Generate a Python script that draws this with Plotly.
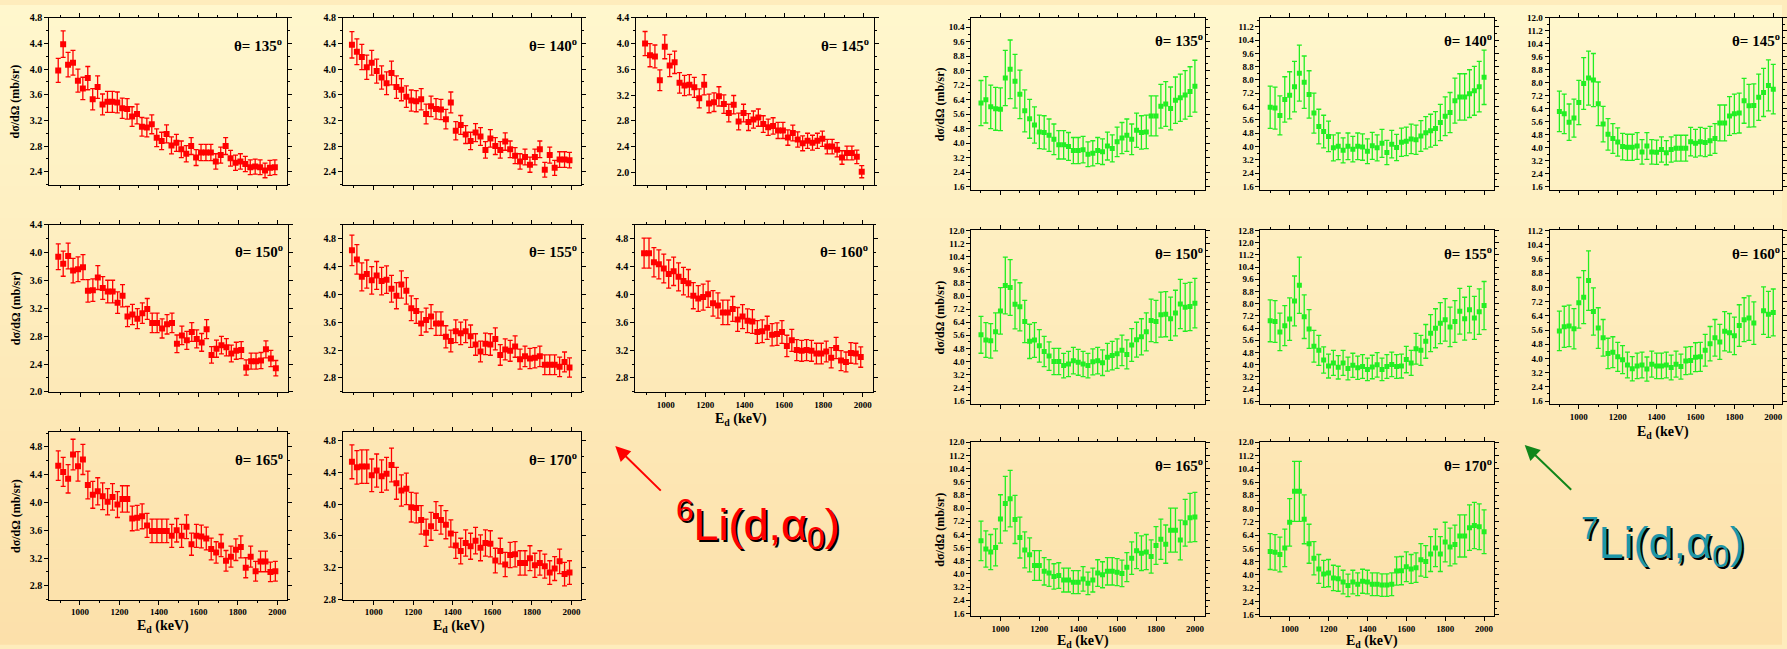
import plotly.graph_objects as go

W, H = 1787, 649

# ---------------- data ----------------
E_6Li = [890, 915, 940, 965, 990, 1015, 1040, 1065, 1090, 1115, 1140, 1165, 1190, 1215, 1240,
         1265, 1290, 1315, 1340, 1365, 1390, 1415, 1440, 1465, 1490, 1515, 1540, 1565, 1590, 1615,
         1640, 1665, 1690, 1715, 1740, 1765, 1790, 1815, 1840, 1865, 1890, 1915, 1940, 1965, 1990]
E_7Li = [900, 925, 950, 975, 1000, 1025, 1050, 1075, 1100, 1125, 1150, 1175, 1200, 1225, 1250,
         1275, 1300, 1325, 1350, 1375, 1400, 1425, 1450, 1475, 1500, 1525, 1550, 1575, 1600, 1625,
         1650, 1675, 1700, 1725, 1750, 1775, 1800, 1825, 1850, 1875, 1900, 1925, 1950, 1975, 2000]

li6_135 = [3.98, 4.39, 4.07, 4.10, 3.82, 3.70, 3.86, 3.53, 3.72, 3.45, 3.49, 3.49, 3.48, 3.39, 3.38,
           3.26, 3.30, 3.10, 3.09, 3.14, 2.93, 2.88, 2.99, 2.81, 2.85, 2.75, 2.68, 2.80, 2.62, 2.70,
           2.70, 2.70, 2.56, 2.66, 2.80, 2.61, 2.54, 2.56, 2.52, 2.47, 2.48, 2.47, 2.42, 2.46, 2.47]
li6_140 = [4.38, 4.27, 4.19, 4.03, 4.10, 3.97, 3.87, 3.78, 3.94, 3.72, 3.68, 3.57, 3.51, 3.50, 3.53,
           3.30, 3.42, 3.38, 3.37, 3.22, 3.48, 3.04, 3.13, 2.98, 2.88, 3.01, 2.95, 2.74, 2.92, 2.80,
           2.74, 2.87, 2.75, 2.65, 2.56, 2.63, 2.51, 2.63, 2.75, 2.43, 2.66, 2.46, 2.59, 2.59, 2.58]
li6_145 = [4.00, 3.82, 3.80, 3.43, 3.95, 3.66, 3.71, 3.39, 3.35, 3.36, 3.32, 3.15, 3.36, 3.07, 3.09,
           3.18, 3.06, 2.92, 3.05, 2.79, 2.92, 2.78, 2.82, 2.85, 2.75, 2.70, 2.72, 2.65, 2.65, 2.54,
           2.61, 2.51, 2.45, 2.49, 2.46, 2.49, 2.52, 2.40, 2.40, 2.35, 2.23, 2.30, 2.30, 2.24, 2.01]
li6_150 = [3.94, 3.84, 3.95, 3.74, 3.76, 3.79, 3.45, 3.46, 3.64, 3.49, 3.44, 3.44, 3.28, 3.38, 3.08,
           3.11, 3.05, 3.13, 3.19, 2.99, 2.99, 2.91, 2.97, 2.99, 2.69, 2.81, 2.74, 2.86, 2.76, 2.71,
           2.90, 2.53, 2.62, 2.67, 2.64, 2.55, 2.59, 2.60, 2.35, 2.44, 2.44, 2.45, 2.61, 2.48, 2.34]
li6_155 = [4.63, 4.50, 4.25, 4.29, 4.20, 4.27, 4.19, 4.21, 4.08, 3.98, 4.14, 4.05, 3.80, 3.76, 3.58,
           3.63, 3.68, 3.58, 3.58, 3.39, 3.33, 3.47, 3.44, 3.47, 3.40, 3.28, 3.18, 3.29, 3.28, 3.36,
           3.13, 3.21, 3.19, 3.25, 3.07, 3.11, 3.08, 3.09, 3.11, 2.99, 2.99, 2.99, 2.96, 3.03, 2.95]
li6_160 = [4.59, 4.59, 4.46, 4.43, 4.37, 4.29, 4.33, 4.25, 4.19, 4.16, 3.98, 3.94, 3.96, 4.00, 3.87,
           3.84, 3.74, 3.74, 3.79, 3.64, 3.68, 3.62, 3.61, 3.46, 3.47, 3.52, 3.42, 3.43, 3.46, 3.26,
           3.34, 3.20, 3.19, 3.20, 3.19, 3.15, 3.15, 3.18, 3.09, 3.23, 3.05, 3.03, 3.16, 3.15, 3.10]
li6_165 = [4.53, 4.44, 4.34, 4.69, 4.52, 4.62, 4.25, 4.11, 4.16, 4.09, 4.01, 4.08, 3.97, 4.05, 4.05,
           3.77, 3.78, 3.80, 3.67, 3.59, 3.59, 3.59, 3.59, 3.52, 3.60, 3.52, 3.65, 3.40, 3.52, 3.51,
           3.48, 3.33, 3.28, 3.38, 3.16, 3.22, 3.32, 3.36, 3.06, 3.22, 3.01, 3.15, 3.15, 3.00, 3.01]
li6_170 = [4.53, 4.46, 4.47, 4.47, 4.36, 4.42, 4.35, 4.38, 4.49, 4.26, 4.17, 4.19, 3.96, 3.95, 3.80,
           3.64, 3.72, 3.85, 3.80, 3.74, 3.63, 3.48, 3.41, 3.51, 3.47, 3.54, 3.45, 3.51, 3.50, 3.29,
           3.41, 3.24, 3.36, 3.37, 3.26, 3.26, 3.32, 3.23, 3.26, 3.22, 3.14, 3.19, 3.28, 3.12, 3.14]

li7_135 = [6.22, 6.40, 6.01, 5.90, 5.88, 7.60, 8.08, 7.42, 6.70, 5.79, 5.35, 5.01, 4.63, 4.60, 4.45,
           4.22, 3.92, 3.92, 3.83, 3.60, 3.60, 3.65, 3.40, 3.45, 3.60, 3.54, 3.85, 3.72, 4.08, 4.29,
           4.45, 4.22, 4.72, 4.60, 4.63, 5.51, 5.51, 6.04, 6.17, 5.92, 6.38, 6.51, 6.67, 6.85, 7.15]
li7_140 = [6.36, 6.31, 5.87, 6.83, 7.08, 7.60, 8.41, 7.87, 7.13, 6.01, 5.20, 4.90, 4.61, 3.92, 4.01,
           3.77, 4.01, 3.84, 4.01, 3.97, 3.72, 4.04, 3.92, 4.19, 3.64, 4.14, 3.94, 4.26, 4.31, 4.46,
           4.41, 4.63, 4.83, 4.95, 5.08, 5.45, 5.82, 6.04, 6.76, 6.98, 6.98, 7.18, 7.35, 7.60, 8.16]
li7_145 = [6.24, 6.09, 5.58, 5.83, 6.79, 7.96, 8.29, 8.17, 6.71, 5.46, 4.83, 4.58, 4.36, 4.08, 4.03,
           4.03, 4.11, 3.75, 4.11, 3.75, 3.73, 3.90, 3.70, 3.90, 3.98, 3.98, 3.98, 4.38, 4.28, 4.38,
           4.33, 4.43, 4.58, 5.53, 5.53, 5.96, 6.09, 6.14, 6.89, 6.59, 6.61, 7.11, 7.41, 7.84, 7.61]
li7_150 = [5.63, 5.31, 5.26, 5.81, 7.09, 8.64, 8.52, 7.49, 7.34, 6.44, 5.23, 5.31, 4.96, 4.61, 4.33,
           4.00, 4.00, 3.75, 3.85, 4.05, 3.95, 3.85, 3.75, 3.98, 4.05, 3.93, 4.26, 4.36, 4.48, 4.68,
           4.43, 5.01, 5.33, 5.51, 5.81, 6.51, 6.44, 6.86, 6.89, 6.61, 6.96, 7.51, 7.31, 7.36, 7.56]
li7_155 = [6.88, 6.83, 6.15, 6.56, 6.99, 8.18, 9.21, 7.15, 6.34, 5.21, 4.94, 4.31, 3.91, 4.12, 3.83,
           4.12, 3.75, 3.96, 3.80, 3.88, 3.69, 3.85, 3.99, 3.69, 3.88, 4.02, 3.88, 3.91, 4.34, 4.12,
           5.04, 4.94, 5.53, 6.07, 6.39, 6.72, 6.94, 6.48, 6.83, 7.50, 7.02, 7.61, 7.07, 7.48, 7.88]
li7_160 = [5.55, 5.78, 5.83, 5.67, 7.13, 7.45, 8.38, 6.64, 5.71, 5.16, 4.28, 4.35, 4.09, 3.93, 3.63,
           3.42, 3.58, 3.63, 3.40, 3.68, 3.58, 3.58, 3.63, 3.49, 3.68, 3.54, 3.86, 3.89, 4.07, 4.09,
           4.46, 4.83, 5.16, 4.93, 5.53, 5.44, 5.27, 5.85, 6.18, 6.27, 5.99, None, 6.69, 6.48, 6.59]
li7_165 = [6.01, 5.51, 5.33, 5.61, 7.34, 8.27, 8.57, 7.31, 6.21, 5.46, 5.16, 4.51, 4.51, 4.16, 4.06,
           3.85, 3.90, 3.63, 3.63, 3.50, 3.50, 3.70, 3.43, 3.63, 4.05, 3.95, 4.16, 4.16, 4.11, 4.03,
           4.41, 4.96, 5.41, 5.26, 5.33, 5.06, 5.73, 6.11, 5.81, 6.66, 6.66, 6.06, 7.11, 7.41, 7.46]
li7_170 = [5.41, 5.36, 5.23, 5.63, 7.17, 9.04, 9.04, 7.35, 5.88, 5.01, 4.36, 4.06, 4.11, 3.82, 3.77,
           3.57, 3.37, 3.57, 3.44, 3.62, 3.57, 3.44, 3.44, 3.39, 3.39, 3.44, 4.24, 4.26, 4.49, 4.36,
           4.44, 4.91, 4.81, 5.26, 5.63, 5.26, 5.98, 5.68, 5.83, 6.35, 6.35, 6.85, 6.98, 6.90, 6.60]

ERR_6LI_PCT = 4.7   # relative uncertainty (%)
ERR_7LI_PCT = 20.0

angles = [135, 140, 145, 150, 155, 160, 165, 170]
li6 = {135: li6_135, 140: li6_140, 145: li6_145, 150: li6_150,
       155: li6_155, 160: li6_160, 165: li6_165, 170: li6_170}
li7 = {135: li7_135, 140: li7_140, 145: li7_145, 150: li7_150,
       155: li7_155, 160: li7_160, 165: li7_165, 170: li7_170}

# ---------------- layout / style ----------------
RED = '#ff0000'
GREEN = '#22ee22'
SERIF = 'Liberation Serif'
SANS = 'Liberation Sans'

# pixel boxes: left, right, top, bottom
red_box = {135: (49.5, 287.5, 13, 183), 140: (344, 583, 13, 183), 145: (638, 876, 13, 183),
           150: (49.5, 288.5, 223, 393), 155: (344, 583, 223, 393), 160: (637, 875, 223, 393),
           165: (49.5, 288, 434, 604), 170: (344, 583, 434, 604)}
red_yr = {135: [2.19, 4.801], 140: [2.19, 4.801], 145: [1.8, 4.401], 150: [1.999, 4.401],
          155: [2.6, 5.0], 160: [2.6, 5.0], 165: [2.6, 5.01], 170: [2.799, 4.9]}
green_box = {135: (974, 1208, 13, 188), 140: (1264, 1498, 13, 188), 145: (1554, 1788, 13, 188),
             150: (974, 1208, 229, 405), 155: (1264, 1498, 229, 405), 160: (1554, 1788, 229, 405),
             165: (974, 1208, 444, 621), 170: (1264, 1498, 444, 621)}
green_yr = {135: [1.42, 10.92], 140: [1.38, 11.74], 145: [1.40, 12.001], 150: [1.42, 12.001],
            155: [1.44, 12.801], 160: [1.45, 11.201], 165: [1.42, 12.001], 170: [1.5, 12.001]}
RED_XR = [845, 2050]
GREEN_XR = [850, 2050]

fig = go.Figure()
layout_axes = {}
annotations = []
counter = [0]


def add_panel(E, vals, color, pct, box, yr, xr, show_xl, ydt, angle, msize, ytfs, xtfs,
              theta_x, theta_y):
    counter[0] += 1
    n = counter[0]
    s = '' if n == 1 else str(n)
    l, r, t, b = box
    xr = list(xr)
    if r > W:
        span = (xr[1] - xr[0]) / (r - l)
        xr[1] = xr[0] + span * (W - l)
        r = W
    fig.add_trace(go.Scatter(
        x=E, y=vals, mode='markers', xaxis='x' + s, yaxis='y' + s, showlegend=False,
        marker=dict(symbol='square', size=msize, color=color, line=dict(width=0)),
        error_y=dict(type='percent', value=pct, color=color, thickness=1.3, width=2.5)))
    common = dict(showline=True, linecolor='black', linewidth=1, mirror='ticks',
                  ticks='outside', ticklen=4, tickwidth=1, tickcolor='black',
                  showgrid=False, zeroline=False)
    layout_axes['xaxis' + s] = dict(
        domain=[l / W, min(r / W, 1.0)], anchor='y' + s, range=xr,
        tick0=1000, dtick=200, showticklabels=show_xl,
        tickfont=dict(family=SERIF, size=xtfs, color='black', weight='bold'),
        minor=dict(dtick=100, ticks='outside', ticklen=2, tickcolor='black'), **common)
    layout_axes['yaxis' + s] = dict(
        domain=[1 - b / H, 1 - t / H], anchor='x' + s, range=yr,
        tick0=0, dtick=ydt, tickformat='.1f',
        tickfont=dict(family=SERIF, size=ytfs, color='black', weight='bold'),
        minor=dict(dtick=ydt / 2, ticks='outside', ticklen=2, tickcolor='black'), **common)
    annotations.append(dict(
        xref='x' + s + ' domain', yref='y' + s + ' domain', x=theta_x, y=theta_y,
        xanchor='right', yanchor='middle', showarrow=False,
        text='<b>θ= %d<sup>o</sup></b>' % angle,
        font=dict(family=SERIF, size=15, color='black')))


for a in angles:
    add_panel(E_6Li, li6[a], RED, ERR_6LI_PCT, red_box[a], red_yr[a], RED_XR,
              a in (160, 165, 170), 0.4, a, 6, 10, 9, 0.99, 0.84)
for a in angles:
    add_panel(E_7Li, li7[a], GREEN, ERR_7LI_PCT, green_box[a], green_yr[a], GREEN_XR,
              a in (160, 165, 170), 0.8, a, 5, 9, 9, 1.0, 0.87)


def px(x):
    return x / W


def py(y):
    return 1 - y / H


# axis titles
ytitle = '<b>dσ/dΩ (mb/sr)</b>'
for (xc, box) in [(16, red_box[135]), (16, red_box[150]), (16, red_box[165]),
                  (943, green_box[135]), (943, green_box[150]), (943, green_box[165])]:
    yc = (box[2] + box[3]) / 2
    annotations.append(dict(xref='paper', yref='paper', x=px(xc), y=py(yc), text=ytitle,
                            textangle=-90, showarrow=False, xanchor='center', yanchor='middle',
                            font=dict(family=SERIF, size=12, color='black')))
xtitle = '<b>E<sub>d</sub> (keV)</b>'
for (xc, yc) in [(743, 421), (163, 631), (460, 631), (1086, 646), (1376, 646), (1668, 434)]:
    annotations.append(dict(xref='paper', yref='paper', x=px(xc), y=py(yc), text=xtitle,
                            showarrow=False, xanchor='center', yanchor='middle',
                            font=dict(family=SERIF, size=14, color='black')))

# reaction labels with drop shadow
for (txt, color, xc, yc) in [('<sup>6</sup>Li(d,α<sub>0</sub>)', RED, 760, 527),
                             ('<sup>7</sup>Li(d,α<sub>0</sub>)', '#1e96a8', 1668, 545)]:
    annotations.append(dict(xref='paper', yref='paper', x=px(xc), y=py(yc), text=txt,
                            showarrow=False, xanchor='center', yanchor='middle', xshift=2, yshift=-2,
                            font=dict(family=SANS, size=45, color='black')))
    annotations.append(dict(xref='paper', yref='paper', x=px(xc), y=py(yc), text=txt,
                            showarrow=False, xanchor='center', yanchor='middle',
                            font=dict(family=SANS, size=45, color=color)))

# arrows
for (hx, hy, tx, ty, col) in [(617, 448, 664, 494, RED), (1529, 447, 1577, 493, '#11861a')]:
    annotations.append(dict(xref='paper', yref='paper', x=px(hx), y=py(hy), ax=tx - hx, ay=ty - hy,
                            axref='pixel', ayref='pixel', text='', showarrow=True,
                            arrowhead=2, arrowsize=1.5, arrowwidth=2, arrowcolor=col))

# background gradient (pale yellow -> light orange)
top = (255, 247, 205)
bot = (252, 224, 170)
shapes = []
NB = 60
for i in range(NB):
    f = i / (NB - 1)
    c = tuple(round(top[k] + (bot[k] - top[k]) * f) for k in range(3))
    shapes.append(dict(type='rect', xref='paper', yref='paper', x0=0, x1=1,
                       y0=1 - (i + 1) / NB - 0.001, y1=1 - i / NB,
                       fillcolor='rgb(%d,%d,%d)' % c, line=dict(width=0), layer='below'))

fig.update_layout(width=W, height=H, autosize=False, margin=dict(l=0, r=0, t=0, b=0),
                  paper_bgcolor='rgb(254,236,188)', plot_bgcolor='rgba(0,0,0,0)',
                  showlegend=False, annotations=annotations, shapes=shapes, **layout_axes)

fig.write_html('out.html')
